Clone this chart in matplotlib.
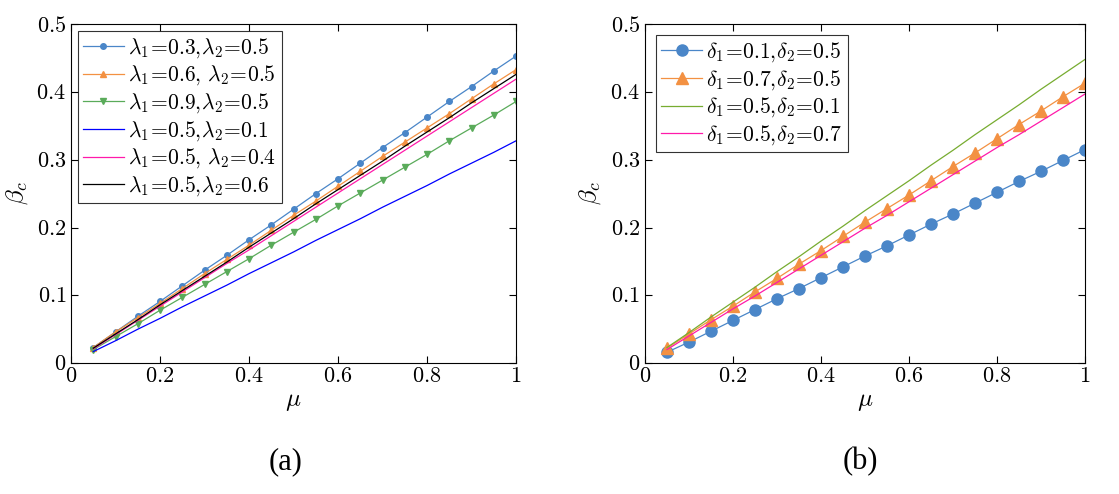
import numpy as np
import matplotlib
matplotlib.use("Agg")
import matplotlib.pyplot as plt
from matplotlib.ticker import FuncFormatter

plt.rcParams["mathtext.fontset"] = "cm"
plt.rcParams["font.family"] = "serif"
plt.rcParams["font.serif"] = ["Liberation Serif", "DejaVu Serif"]

mu = [0.05, 0.10, 0.15, 0.20, 0.25, 0.30, 0.35, 0.40, 0.45, 0.50,
      0.55, 0.60, 0.65, 0.70, 0.75, 0.80, 0.85, 0.90, 0.95, 1.00]

# panel (a): lambda sweeps
lam_03_05 = [0.023, 0.046, 0.069, 0.091, 0.114, 0.137, 0.159, 0.182, 0.204, 0.227,
             0.250, 0.272, 0.295, 0.318, 0.340, 0.363, 0.386, 0.408, 0.431, 0.453]
lam_06_05 = [0.023, 0.046, 0.067, 0.088, 0.110, 0.132, 0.153, 0.174, 0.196, 0.218,
             0.239, 0.261, 0.283, 0.305, 0.326, 0.347, 0.368, 0.390, 0.412, 0.433]
lam_09_05 = [0.020, 0.039, 0.058, 0.078, 0.097, 0.116, 0.135, 0.154, 0.174, 0.193,
             0.212, 0.232, 0.251, 0.270, 0.289, 0.308, 0.328, 0.347, 0.366, 0.386]
lam_05_01 = [0.017, 0.033, 0.050, 0.066, 0.083, 0.099, 0.115, 0.132, 0.148, 0.164,
             0.181, 0.197, 0.213, 0.230, 0.246, 0.262, 0.279, 0.295, 0.311, 0.328]
lam_05_04 = [0.021, 0.042, 0.063, 0.084, 0.105, 0.126, 0.147, 0.167, 0.188, 0.209,
             0.230, 0.251, 0.272, 0.293, 0.314, 0.335, 0.356, 0.377, 0.398, 0.419]
lam_05_06 = [0.022, 0.043, 0.064, 0.086, 0.107, 0.128, 0.149, 0.171, 0.192, 0.213,
             0.235, 0.256, 0.277, 0.298, 0.320, 0.341, 0.362, 0.384, 0.405, 0.426]

# panel (b): delta sweeps
del_01_05 = [0.016, 0.031, 0.047, 0.063, 0.079, 0.095, 0.110, 0.126, 0.142, 0.158,
             0.173, 0.189, 0.205, 0.220, 0.236, 0.252, 0.268, 0.283, 0.299, 0.315]
del_07_05 = [0.022, 0.043, 0.064, 0.084, 0.105, 0.125, 0.146, 0.166, 0.187, 0.208,
             0.228, 0.248, 0.269, 0.290, 0.310, 0.331, 0.352, 0.372, 0.393, 0.413]
del_05_01 = [0.023, 0.045, 0.068, 0.090, 0.112, 0.135, 0.157, 0.180, 0.202, 0.225,
             0.247, 0.269, 0.292, 0.314, 0.337, 0.359, 0.381, 0.404, 0.426, 0.448]
del_05_07 = [0.020, 0.040, 0.060, 0.080, 0.099, 0.119, 0.139, 0.159, 0.179, 0.199,
             0.218, 0.238, 0.258, 0.278, 0.298, 0.318, 0.337, 0.357, 0.377, 0.397]

C_BLUE = "#4a86c8"
C_ORANGE = "#f39142"
C_GREEN = "#5aab5a"
C_GREEN2 = "#77ac30"
C_PURE_BLUE = "#0000ff"
C_PINK = "#ff1aaa"

fig = plt.figure(figsize=(11.19, 4.94), dpi=100)
ax1 = fig.add_axes([0.0635, 0.265, 0.3977, 0.686])
ax2 = fig.add_axes([0.5764, 0.265, 0.3932, 0.686])

lw = 0.9
ax1.plot(mu, lam_03_05, color=C_BLUE, lw=lw, marker="o", ms=4,
         label=r"$\lambda_1\!=\!0.3,\!\lambda_2\!=\!0.5$")
ax1.plot(mu, lam_06_05, color=C_ORANGE, lw=lw, marker="^", ms=4,
         label=r"$\lambda_1\!=\!0.6,\,\lambda_2\!=\!0.5$")
ax1.plot(mu, lam_09_05, color=C_GREEN, lw=lw, marker="v", ms=4,
         label=r"$\lambda_1\!=\!0.9,\!\lambda_2\!=\!0.5$")
ax1.plot(mu, lam_05_01, color=C_PURE_BLUE, lw=lw,
         label=r"$\lambda_1\!=\!0.5,\!\lambda_2\!=\!0.1$")
ax1.plot(mu, lam_05_04, color=C_PINK, lw=lw,
         label=r"$\lambda_1\!=\!0.5,\,\lambda_2\!=\!0.4$")
ax1.plot(mu, lam_05_06, color="black", lw=lw,
         label=r"$\lambda_1\!=\!0.5,\!\lambda_2\!=\!0.6$")

ax2.plot(mu, del_01_05, color=C_BLUE, lw=lw, marker="o", ms=8,
         label=r"$\delta_1\!=\!0.1,\!\delta_2\!=\!0.5$")
ax2.plot(mu, del_07_05, color=C_ORANGE, lw=lw, marker="^", ms=8,
         label=r"$\delta_1\!=\!0.7,\!\delta_2\!=\!0.5$")
ax2.plot(mu, del_05_01, color=C_GREEN2, lw=lw,
         label=r"$\delta_1\!=\!0.5,\!\delta_2\!=\!0.1$")
ax2.plot(mu, del_05_07, color=C_PINK, lw=lw,
         label=r"$\delta_1\!=\!0.5,\!\delta_2\!=\!0.7$")

fmt = FuncFormatter(lambda v, p: "$%g$" % round(v, 2))
for ax, pad in ((ax1, 0.3), (ax2, 0.5)):
    ax.set_xlim(0, 1)
    ax.set_ylim(0, 0.5)
    ax.set_xticks([0, 0.2, 0.4, 0.6, 0.8, 1])
    ax.set_yticks([0, 0.1, 0.2, 0.3, 0.4, 0.5])
    ax.xaxis.set_major_formatter(fmt)
    ax.yaxis.set_major_formatter(fmt)
    ax.tick_params(direction="in", top=True, right=True, labelsize=16, length=5, width=0.8)
    for s in ax.spines.values():
        s.set_linewidth(0.8)
    ax.set_xlabel(r"$\mu$", fontsize=18, labelpad=3)
    ax.set_ylabel(r"$\beta_c$", fontsize=18, labelpad=5)
    leg = ax.legend(loc="upper left", fontsize=15.5, frameon=True, fancybox=False,
                    edgecolor="black", borderaxespad=pad, handlelength=1.9,
                    handletextpad=0.2, labelspacing=0.18, borderpad=0.25)
    leg.get_frame().set_linewidth(0.8)

fig.text(0.255, 0.065, "(a)", fontsize=22, ha="center", va="center")
fig.text(0.769, 0.065, "(b)", fontsize=22, ha="center", va="center")

fig.savefig("out.png", dpi=100)
